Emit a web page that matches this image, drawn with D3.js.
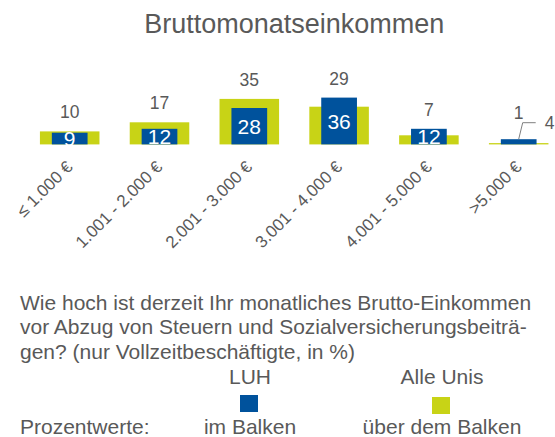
<!DOCTYPE html>
<html>
<head>
<meta charset="utf-8">
<script src="https://cdn.jsdelivr.net/npm/d3@7"></script>
<style>
  body { margin: 0; background: #fff; }
  svg { display: block; font-family: "Liberation Sans", Arial, sans-serif; }
</style>
</head>
<body>
<div id="main"></div>
<script>
// values (in %)
const categories = ["≤ 1.000 €", "1.001 - 2.000 €", "2.001 - 3.000 €", "3.001 - 4.000 €", "4.001 - 5.000 €", ">5.000 €"];
const luh = [9, 12, 28, 36, 12, 4];        // blue, label in the bar
const alleUnis = [10, 17, 35, 29, 7, 1];   // green, label above the bar
const question = [
  "Wie hoch ist derzeit Ihr monatliches Brutto-Einkommen",
  "vor Abzug von Steuern und Sozialversicherungsbeiträ-",
  "gen? (nur Vollzeitbeschäftigte, in %)"
];
const legendNames = ["LUH", "Alle Unis"];
const legendHints = ["im Balken", "über dem Balken"];

const width = 555, height = 437;
const blue = "#00529c", green = "#c8d316", grey = "#595959";

const data = categories.map((c, i) => ({ cat: c, luh: luh[i], alle: alleUnis[i] }));

const svg = d3.select("#main").append("svg")
  .attr("width", width)
  .attr("height", height);

// plot area runs a bit past the right edge (the original was cropped)
const x = d3.scaleBand()
  .domain(categories)
  .range([24.8, 563.6])
  .paddingInner(0.337)
  .paddingOuter(0.1685);

const y = d3.scaleLinear().domain([0, 40]).range([144.4, 92.4]);

svg.append("text")
  .attr("x", (24.8 + 563.6) / 2)
  .attr("y", 33)
  .attr("text-anchor", "middle")
  .attr("font-size", 27)
  .attr("fill", grey)
  .text("Bruttomonatseinkommen");

const g = svg.selectAll("g.grp")
  .data(data)
  .enter().append("g")
  .attr("class", "grp");

g.append("rect")
  .attr("x", d => x(d.cat))
  .attr("y", d => y(d.alle))
  .attr("width", x.bandwidth())
  .attr("height", d => y(0) - y(d.alle))
  .attr("fill", green);

g.append("rect")
  .attr("x", d => x(d.cat) + x.bandwidth() * 0.2)
  .attr("y", d => y(d.luh))
  .attr("width", x.bandwidth() * 0.6)
  .attr("height", d => y(0) - y(d.luh))
  .attr("fill", blue);

const fits = d => d.luh >= 6;
const cx = d => x(d.cat) + x.bandwidth() / 2;
const leaderY = d => y(d.luh) - 16.5;

// LUH values inside the blue bars
g.filter(fits).append("text")
  .attr("x", cx)
  .attr("y", d => (y(d.luh) + y(0)) / 2 + 7.5)
  .attr("text-anchor", "middle")
  .attr("font-size", 21)
  .attr("fill", "#fff")
  .text(d => d.luh);

// LUH values that do not fit get a leader line
const small = g.filter(d => !fits(d));
small.append("polyline")
  .attr("points", d => [[cx(d), y(d.luh)], [cx(d) + 4, leaderY(d)], [cx(d) + 17, leaderY(d)]].join(" "))
  .attr("fill", "none")
  .attr("stroke", "#7f7f7f")
  .attr("stroke-width", 1);
small.append("text")
  .attr("x", d => cx(d) + 26)
  .attr("y", d => leaderY(d) + 6.2)
  .attr("font-size", 17.5)
  .attr("fill", grey)
  .text(d => d.luh);

// Alle Unis values above
g.append("text")
  .attr("x", cx)
  .attr("y", d => fits(d) ? y(Math.max(d.luh, d.alle)) - 13 : leaderY(d) - 3.5)
  .attr("text-anchor", "middle")
  .attr("font-size", 17.5)
  .attr("fill", grey)
  .text(d => d.alle);

// category axis, rotated labels
const axis = svg.append("g")
  .attr("transform", "translate(0,168)")
  .call(d3.axisBottom(x).tickSize(0).tickPadding(0));
axis.select(".domain").remove();
axis.selectAll("text")
  .attr("font-family", null)
  .attr("font-size", 17)
  .attr("fill", grey)
  .attr("dy", 0)
  .attr("y", 0)
  .attr("text-anchor", "end")
  .attr("transform", "translate(4,0) rotate(-45)");

// question text
svg.append("g").selectAll("text")
  .data(question)
  .enter().append("text")
  .attr("x", 20)
  .attr("y", (d, i) => 309.5 + i * 24.5)
  .attr("font-size", 21)
  .attr("fill", grey)
  .text(d => d);

// legend
const colX = [250, 442];
const leg = svg.append("g").selectAll("g")
  .data(legendNames)
  .enter().append("g");
leg.append("text")
  .attr("x", (d, i) => colX[i])
  .attr("y", 384)
  .attr("text-anchor", "middle")
  .attr("font-size", 21)
  .attr("fill", grey)
  .text(d => d);
leg.append("rect")
  .attr("x", (d, i) => colX[i] - 10)
  .attr("y", (d, i) => i ? 397 : 395)
  .attr("width", 18)
  .attr("height", 17)
  .attr("fill", (d, i) => i ? green : blue);
leg.append("text")
  .attr("x", (d, i) => colX[i])
  .attr("y", 434)
  .attr("text-anchor", "middle")
  .attr("font-size", 21)
  .attr("fill", grey)
  .text((d, i) => legendHints[i]);

svg.append("text")
  .attr("x", 20)
  .attr("y", 434)
  .attr("font-size", 21)
  .attr("fill", grey)
  .text("Prozentwerte:");
</script>
</body>
</html>
